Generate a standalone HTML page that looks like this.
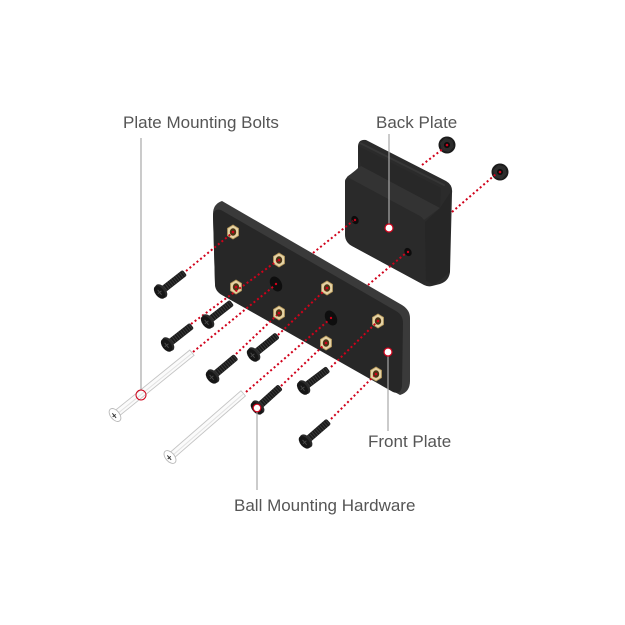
<!DOCTYPE html>
<html>
<head>
<meta charset="utf-8">
<style>
  html,body{margin:0;padding:0;background:#fff;}
  svg{display:block;}
  text{font-family:"Liberation Sans",Arial,sans-serif;font-size:17px;fill:#555;}
</style>
</head>
<body>
<svg width="625" height="625" viewBox="0 0 625 625" xmlns="http://www.w3.org/2000/svg">
  <defs>
    <g id="screw">
      <rect x="3" y="-3.6" width="28.5" height="7.2" rx="2" fill="#1a1a1a"/>
      <line x1="6" y1="0" x2="31" y2="0" stroke="#3b3b3b" stroke-width="6.4" stroke-dasharray="0.9 1.7"/>
      <ellipse cx="1.5" cy="0" rx="4.8" ry="7.8" fill="#2a2a2a"/>
      <ellipse cx="-0.5" cy="0" rx="4.4" ry="7.4" fill="#161616"/>
      <path d="M-0.5,-3.2v6.4 M-2.8,0h4.6" stroke="#4a4a4a" stroke-width="0.9"/>
    </g>
    <g id="hex">
      <polygon points="0,-7 5.5,-3.6 5.5,3.6 0,7 -5.5,3.6 -5.5,-3.6" fill="#e6d3a4" stroke="#b5975a" stroke-width="0.8"/>
      <ellipse cx="0" cy="0" rx="3.2" ry="3.8" fill="#4a3516"/>
      <circle cx="0" cy="0" r="1.3" fill="#d0021b"/>
    </g>
    <g id="nut">
      <circle cx="0" cy="0" r="8.5" fill="#1b1b1b"/>
      <polygon points="-4.5,-8 4.5,-8 9,0 4.5,8 -4.5,8 -9,0" transform="rotate(15) scale(0.8)" fill="#2c2c2c"/>
      <circle cx="0" cy="0" r="3" fill="#0a0a0a"/>
      <circle cx="0" cy="0" r="1.3" fill="#d0021b"/>
    </g>
  </defs>

  <!-- BACK PLATE -->
  <path d="M358,147 Q358,139 366,140 L446,181 Q453,185 452,193 L450,272 Q449,281 440,284 L432,286 Q428,287 424,285 L352,246 Q345,242 345,235 L345,184 Q345,176 352,174 L358,168 Z" fill="#2b2b2b"/>
  <!-- tab front face -->
  <polygon points="358,146 441,188 440,208 361,166" fill="#282828"/>
  <path d="M360,143 L444,185" stroke="#363636" stroke-width="2" stroke-linecap="round"/>
  <!-- block top surface -->
  <polygon points="347,177 361,166 440,208 424,220" fill="#333"/>
  <!-- front face -->
  <path d="M345,182 Q345,176 351,179 L420,216 Q425,219 425,225 L426,278 Q426,285 419,282 L352,246 Q346,243 346,237 Z" fill="#2a2a2a"/>
  <!-- right side face -->
  <polygon points="425,222 440,208 450,193 450,272 434,285 426,281" fill="#262626"/>
  <!-- back plate holes -->
  <ellipse cx="355" cy="220" rx="3.4" ry="4.4" fill="#0c0c0c" transform="rotate(-30 355 220)"/>
  <circle cx="355" cy="220" r="1.2" fill="#d0021b"/>
  <ellipse cx="408" cy="252" rx="3.4" ry="4.4" fill="#0c0c0c" transform="rotate(-30 408 252)"/>
  <circle cx="408" cy="252" r="1.2" fill="#d0021b"/>

  <!-- nuts -->
  <use href="#nut" x="447" y="145"/>
  <use href="#nut" x="500" y="172"/>

  <!-- dotted segments near back plate -->
  <g stroke="#d0021b" stroke-width="2" stroke-dasharray="2 2.6" fill="none">
    <line x1="422" y1="165" x2="444" y2="148"/>
    <line x1="452" y1="212" x2="496" y2="174"/>
    <line x1="313" y1="253" x2="353" y2="221"/>
    <line x1="368" y1="285" x2="406" y2="253"/>
  </g>

  <!-- FRONT PLATE -->
  <path d="M213,214 Q213,204 222,201 L402,305 Q410,310 410,318 L410,381 Q410,392 400,395 L222,295 Q215,291 215,284 Z" fill="#3a3a3a"/>
  <path d="M213,217 Q213,208 221,210 L396,311 Q403,315 403,323 L402,386 Q401,395 393,392 L222,295 Q215,291 215,284 Z" fill="#272727"/>

  <!-- holes -->
  <use href="#hex" x="233" y="232"/>
  <use href="#hex" x="279" y="260"/>
  <use href="#hex" x="236" y="287"/>
  <use href="#hex" x="327" y="288"/>
  <use href="#hex" x="279" y="313"/>
  <use href="#hex" x="378" y="321"/>
  <use href="#hex" x="326" y="343"/>
  <use href="#hex" x="376" y="374"/>
  <!-- slots -->
  <ellipse cx="276" cy="284" rx="5.5" ry="8" fill="#0e0e0e" transform="rotate(-30 276 284)"/>
  <circle cx="276" cy="284" r="1.2" fill="#d0021b"/>
  <ellipse cx="331" cy="318" rx="5.5" ry="8" fill="#0e0e0e" transform="rotate(-30 331 318)"/>
  <circle cx="331" cy="318" r="1.2" fill="#d0021b"/>

  <!-- dotted lines from screws -->
  <g stroke="#d0021b" stroke-width="2" stroke-dasharray="2 2.6" fill="none">
    <line x1="186" y1="271" x2="231" y2="234"/>
    <line x1="191" y1="324" x2="277" y2="261"/>
    <line x1="193" y1="352" x2="274" y2="286"/>
    <line x1="236" y1="354" x2="277" y2="315"/>
    <line x1="278" y1="335" x2="325" y2="290"/>
    <line x1="246" y1="392" x2="329" y2="320"/>
    <line x1="281" y1="386" x2="324" y2="345"/>
    <line x1="331" y1="367" x2="376" y2="323"/>
    <line x1="331" y1="419" x2="374" y2="376"/>
  </g>

  <!-- screws -->
  <use href="#screw" transform="translate(160,292) rotate(-38)"/>
  <use href="#screw" transform="translate(167,345) rotate(-38)"/>
  <use href="#screw" transform="translate(207,322) rotate(-38)"/>
  <use href="#screw" transform="translate(212,377) rotate(-40)"/>
  <use href="#screw" transform="translate(253,355) rotate(-39)"/>
  <use href="#screw" transform="translate(257,408) rotate(-42)"/>
  <use href="#screw" transform="translate(303,388) rotate(-37)"/>
  <use href="#screw" transform="translate(305,442) rotate(-41)"/>

  <!-- long clear bolts -->
  <g transform="translate(115,415) rotate(-39)">
    <rect x="3" y="-3.4" width="96" height="6.8" fill="#fbfbfb" stroke="#c4c4c4" stroke-width="0.9"/>
    <line x1="4" y1="0.5" x2="98" y2="0.5" stroke="#e2e2e2" stroke-width="1"/>
    <ellipse cx="0" cy="0" rx="4.5" ry="7.5" fill="#fff" stroke="#b8b8b8" stroke-width="0.9"/>
    <path d="M-1,-3v6 M-3,0h4" stroke="#333" stroke-width="1"/>
  </g>
  <g transform="translate(170,457) rotate(-41)">
    <rect x="3" y="-3.4" width="94" height="6.8" fill="#fbfbfb" stroke="#c4c4c4" stroke-width="0.9"/>
    <line x1="4" y1="0.5" x2="96" y2="0.5" stroke="#e2e2e2" stroke-width="1"/>
    <ellipse cx="0" cy="0" rx="4.5" ry="7.5" fill="#fff" stroke="#b8b8b8" stroke-width="0.9"/>
    <path d="M-1,-3v6 M-3,0h4" stroke="#333" stroke-width="1"/>
  </g>

  <!-- leader lines -->
  <g stroke="#a8a8a8" stroke-width="1.2">
    <line x1="141" y1="138" x2="141" y2="390"/>
    <line x1="389" y1="134" x2="389" y2="224"/>
    <line x1="388" y1="356" x2="388" y2="431"/>
    <line x1="257" y1="412" x2="257" y2="490"/>
  </g>
  <circle cx="141" cy="395" r="5" fill="none" stroke="#d0021b" stroke-width="1"/>
  <circle cx="389" cy="228" r="4" fill="#fff" stroke="#d0021b" stroke-width="1.2"/>
  <circle cx="388" cy="352" r="4" fill="#fff" stroke="#d0021b" stroke-width="1.2"/>
  <circle cx="257" cy="408" r="3.8" fill="#fff" stroke="#d0021b" stroke-width="1.2"/>

  <!-- labels -->
  <text x="123" y="128">Plate Mounting Bolts</text>
  <text x="376" y="128">Back Plate</text>
  <text x="368" y="447">Front Plate</text>
  <text x="234" y="511">Ball Mounting Hardware</text>
</svg>
</body>
</html>
